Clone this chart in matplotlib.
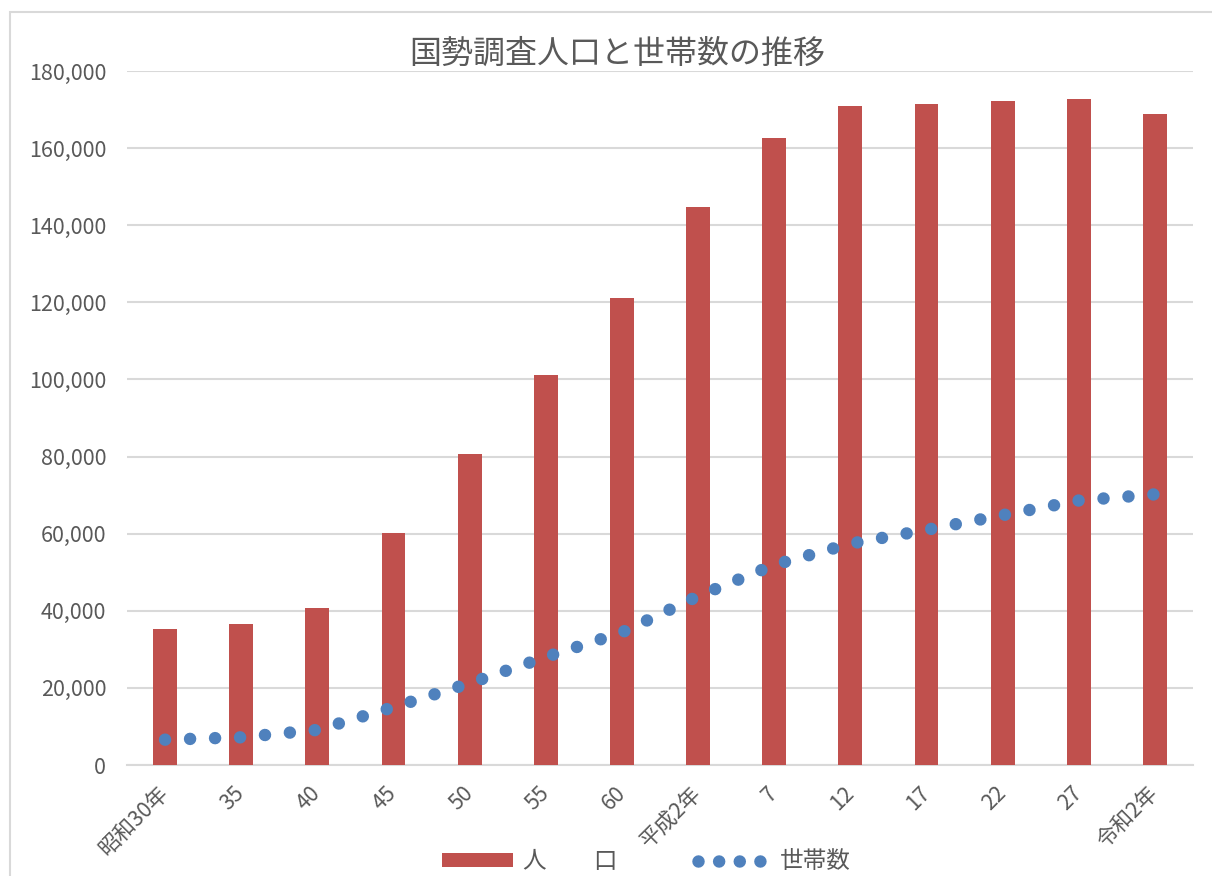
import matplotlib
matplotlib.use("Agg")
import matplotlib.pyplot as plt
import numpy as np
from matplotlib.patches import Rectangle
from matplotlib.lines import Line2D
from matplotlib.ticker import FuncFormatter

plt.rcParams['font.family'] = ['Noto Sans CJK JP', 'DejaVu Sans']

# データ（国勢調査）
categories = ['昭和30年', '35', '40', '45', '50', '55', '60',
              '平成2年', '7', '12', '17', '22', '27', '令和2年']
population = [35200, 36700, 40800, 60200, 80700, 101100, 121100,
              144700, 162600, 170900, 171400, 172200, 172700, 168800]
households = [6570, 7180, 9100, 15000, 21200, 28000, 34400,
              43800, 51900, 57400, 61000, 64800, 68600, 70200]
y_ticks = list(range(0, 180001, 20000))

TEXT = '#595959'
GRID = '#d9d9d9'
RED = '#c0504d'
BLUE = '#4f81bd'

fig = plt.figure(figsize=(12.12, 8.76), dpi=100)
ax = fig.add_axes([127 / 1212, 1 - 765 / 876, (1193 - 127) / 1212, (765 - 71) / 876])

# 枠線
fig.patches.append(Rectangle((10 / 1212, -0.1), 1.2, 1.1 - 12 / 876,
                             transform=fig.transFigure, fill=False,
                             edgecolor=GRID, linewidth=1.5))

x = np.arange(len(categories))
bars = ax.bar(x, population, width=0.315, color=RED, label='人　　口', zorder=2)
ax.plot(x, households, color=BLUE, linewidth=9.0,
        linestyle=(0, (0.001, 2.0)), dash_capstyle='round',
        label='世帯数', zorder=3)

ax.set_xlim(-0.5, len(categories) - 0.5)
ax.set_ylim(0, 180000)
ax.set_yticks(y_ticks)
ax.yaxis.set_major_formatter(FuncFormatter(lambda v, p: f'{int(v):,}'))
ax.grid(axis='y', color=GRID, linewidth=1.5, zorder=0)
ax.set_axisbelow(True)

for s in ['top', 'right', 'left']:
    ax.spines[s].set_visible(False)
ax.spines['bottom'].set_color(GRID)
ax.spines['bottom'].set_linewidth(1.5)
ax.spines['bottom'].set_zorder(1)

ax.set_xticks(x)
ax.set_xticklabels(categories, rotation=45, ha='right', va='center',
                   rotation_mode='anchor')
ax.tick_params(axis='x', length=0, pad=18, labelsize=15.5, labelcolor=TEXT)
ax.tick_params(axis='y', length=0, pad=15, labelsize=15.5, labelcolor=TEXT)

fig.text(617 / 1212, 1 - 54 / 876, '国勢調査人口と世帯数の推移',
         ha='center', va='center', fontsize=23, color=TEXT)

# 凡例用（点の間隔を少し詰める）
line_key = Line2D([], [], color=BLUE, linewidth=9.0,
                  linestyle=(0, (0.001, 1.65)), dash_capstyle='round')
fig.legend(handles=[bars, line_key], labels=['人　　口', '世帯数'], loc='center',
           bbox_to_anchor=(646 / 1212, 1 - 862 / 876),
           ncol=2, frameon=False, fontsize=17, labelcolor=TEXT,
           handlelength=3.0, handleheight=0.55, columnspacing=3.4,
           handletextpad=0.45, borderpad=0.1)

fig.savefig('out.png', dpi=100)
